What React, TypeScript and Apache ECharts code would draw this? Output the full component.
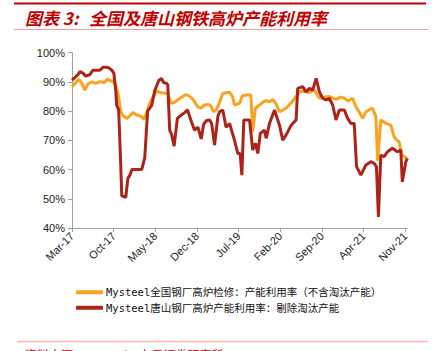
import React, { useEffect, useRef } from "react";
import * as echarts from "echarts";

const seriesNames = [
  "Mysteel全国钢厂高炉检修：产能利用率（不含淘汰产能）",
  "Mysteel唐山钢厂高炉产能利用率：剔除淘汰产能",
];

const nationalDates = [
  "2017-03-01","2017-03-16","2017-04-06","2017-04-21","2017-05-06","2017-05-22","2017-06-11","2017-07-01","2017-07-22","2017-08-12",
  "2017-09-02","2017-09-17","2017-09-27","2017-10-12","2017-10-22","2017-11-07","2017-11-17","2017-12-08","2017-12-23","2018-01-08",
  "2018-01-28","2018-02-17","2018-03-05","2018-03-23","2018-04-08","2018-04-26","2018-05-09","2018-05-24","2018-06-13","2018-07-04",
  "2018-07-22","2018-08-09","2018-08-24","2018-09-14","2018-10-04","2018-10-19","2018-11-04","2018-11-19","2018-12-04","2018-12-20",
  "2019-01-10","2019-01-25","2019-02-09","2019-02-23","2019-03-10","2019-03-26","2019-04-10","2019-04-25","2019-05-16","2019-05-31",
  "2019-06-10","2019-07-06","2019-07-21","2019-08-11","2019-09-03","2019-09-12","2019-09-26","2019-10-17","2019-11-06","2019-11-20",
  "2019-12-07","2019-12-24","2020-01-10","2020-01-28","2020-02-12","2020-02-29","2020-03-23","2020-04-21","2020-05-08","2020-06-03",
  "2020-06-28","2020-07-24","2020-08-19","2020-09-13","2020-10-09","2020-11-12","2020-12-04","2020-12-25","2021-01-14","2021-02-05",
  "2021-02-21","2021-03-09","2021-03-27","2021-04-13","2021-04-30","2021-05-16","2021-06-03","2021-06-12","2021-06-28","2021-07-24",
  "2021-08-19","2021-09-05","2021-09-20","2021-09-30","2021-10-14","2021-10-26","2021-11-12",
];
const nationalValues = [
  88.4,89.5,90.9,89.5,87.2,89.3,90.0,89.5,90.1,89.8,
  91.0,90.3,90.2,89.0,86.6,80.0,78.5,77.5,78.3,79.5,
  78.7,78.3,77.2,80.5,83.5,85.5,87.0,86.4,86.2,86.0,
  82.7,83.0,83.8,84.8,85.6,85.3,84.5,83.3,81.5,81.0,
  82.1,82.3,82.0,79.8,80.5,83.0,86.0,86.3,86.5,85.0,
  82.1,82.7,85.3,85.5,85.5,73.0,81.0,82.1,83.2,83.6,
  83.2,84.0,82.5,79.8,80.3,81.0,82.5,85.0,86.6,86.8,
  86.4,87.2,84.4,84.8,85.0,84.0,84.8,84.4,83.5,84.4,
  81.5,79.8,77.5,79.8,80.5,81.0,78.1,63.0,77.0,75.8,
  75.2,71.2,70.0,69.5,65.0,64.5,63.8,
];

const tangshanDates = [
  "2017-03-01","2017-03-16","2017-04-01","2017-04-11","2017-04-26","2017-05-11","2017-06-01","2017-06-16","2017-07-07","2017-07-22",
  "2017-08-07","2017-08-28","2017-09-07","2017-09-22","2017-10-02","2017-10-12","2017-10-17","2017-10-27","2017-11-05","2017-11-12",
  "2017-12-02","2017-12-13","2017-12-23","2018-01-03","2018-01-28","2018-02-21","2018-03-08","2018-03-23","2018-04-13","2018-04-28",
  "2018-05-19","2018-06-02","2018-06-13","2018-06-27","2018-07-04","2018-07-14","2018-07-24","2018-08-06","2018-08-23","2018-09-09",
  "2018-09-29","2018-10-14","2018-11-03","2018-11-19","2018-12-06","2018-12-23","2019-01-05","2019-01-19","2019-02-04","2019-02-14",
  "2019-02-28","2019-03-17","2019-03-26","2019-04-11","2019-04-28","2019-05-16","2019-06-10","2019-06-27","2019-07-09","2019-07-18",
  "2019-07-28","2019-08-27","2019-09-12","2019-09-26","2019-10-08","2019-10-21","2019-11-11","2019-11-20","2019-12-07","2020-01-02",
  "2020-01-28","2020-02-13","2020-02-29","2020-03-27","2020-04-21","2020-04-29","2020-05-25","2020-06-11","2020-06-28","2020-07-15",
  "2020-08-02","2020-08-19","2020-09-05","2020-09-22","2020-10-09","2020-10-26","2020-11-12","2020-11-29","2020-12-25","2021-01-11",
  "2021-01-28","2021-02-13","2021-02-24","2021-03-18","2021-04-13","2021-05-08","2021-05-25","2021-06-06","2021-06-16","2021-06-28",
  "2021-07-15","2021-08-02","2021-08-27","2021-09-22","2021-10-09","2021-10-17","2021-11-04","2021-11-12",
];
const tangshanValues = [
  90.6,91.5,92.5,93.5,93.0,92.0,92.5,94.0,94.0,94.0,
  95.0,95.0,94.8,94.0,93.0,87.0,82.0,80.5,65.0,51.0,
  50.5,57.0,58.0,60.0,60.0,60.0,64.0,80.0,82.0,87.0,
  90.5,91.2,89.8,89.5,89.0,73.5,72.0,68.0,77.5,78.5,
  79.5,80.4,76.4,73.5,74.5,70.5,75.5,76.7,77.0,75.8,
  68.4,78.2,79.8,80.4,74.5,75.8,70.1,65.5,65.5,58.1,
  77.0,77.0,66.7,69.0,65.5,72.4,73.5,70.7,75.8,80.4,
  75.2,70.1,71.8,75.2,77.0,87.8,88.4,86.6,87.8,87.2,
  91.2,86.6,84.4,83.8,84.4,82.1,77.0,80.4,80.4,77.5,
  75.8,75.8,61.0,58.1,61.6,62.7,62.1,61.0,43.8,65.0,
  64.4,66.1,67.3,66.1,66.7,55.8,62.7,63.8,
];

// tick positions: months since Mar-2017, every 7 months
const tickMonths = [0, 7, 14, 21, 28, 35, 42, 49, 56];
const monthNames = ["Jan","Feb","Mar","Apr","May","Jun","Jul","Aug","Sep","Oct","Nov","Dec"];

function toMonth(d: string): number {
  const [y, mo, da] = d.split("-").map(Number);
  const dim = new Date(y, mo, 0).getDate();
  return (y - 2017) * 12 + (mo - 3) + (da - 1) / dim;
}
function monthLabel(m: number): string {
  const total = 2 + Math.round(m);
  const y = 17 + Math.floor(total / 12);
  return monthNames[total % 12] + "-" + y;
}

const ORANGE = "#FBA31F";
const RED = "#AD2219";

export default function App() {
  const ref = useRef<HTMLDivElement>(null);
  useEffect(() => {
    if (!ref.current) return;
    const chart = echarts.init(ref.current, undefined, { renderer: "svg" });
    const nat = nationalDates.map((d, i) => [toMonth(d), nationalValues[i]]);
    const ts = tangshanDates.map((d, i) => [toMonth(d), tangshanValues[i]]);
    chart.setOption({
      animation: false,
      backgroundColor: "#fff",
      grid: { left: 72, right: 33, top: 52.7, bottom: 123 },
      xAxis: {
        type: "value",
        min: 0,
        max: 56.3,
        splitLine: { show: false },
        axisLine: { lineStyle: { color: "#A0A0A0", width: 1 } },
        axisTick: { show: true, length: 4, customValues: tickMonths, lineStyle: { color: "#A0A0A0" } },
        axisLabel: {
          customValues: tickMonths,
          rotate: 45,
          margin: 6,
          fontSize: 11,
          color: "#222",
          fontFamily: "Liberation Sans, Arial, sans-serif",
          formatter: (v: number) => monthLabel(v),
        },
      },
      yAxis: {
        type: "value",
        min: 40,
        max: 100,
        interval: 10,
        splitLine: { show: false },
        axisLine: { show: true, lineStyle: { color: "#A0A0A0", width: 1 } },
        axisTick: { show: true, length: 4, lineStyle: { color: "#A0A0A0" } },
        axisLabel: {
          margin: 7,
          fontSize: 11,
          color: "#222",
          fontFamily: "Liberation Sans, Arial, sans-serif",
          formatter: "{value}%",
        },
      },
      legend: {
        orient: "vertical",
        left: 71,
        top: 282,
        itemWidth: 27,
        itemHeight: 4,
        itemGap: 5,
        icon: "roundRect",
        data: seriesNames,
        textStyle: {
          fontSize: 10.5,
          color: "#111",
          fontFamily: "DejaVu Sans Mono, Noto Sans CJK SC, monospace",
          padding: [0, 0, 0, -2],
        },
      },
      series: [
        {
          name: seriesNames[0],
          type: "line",
          data: nat,
          showSymbol: false,
          symbol: "none",
          lineStyle: { color: ORANGE, width: 3 },
          itemStyle: { color: ORANGE },
        },
        {
          name: seriesNames[1],
          type: "line",
          data: ts,
          showSymbol: false,
          symbol: "none",
          lineStyle: { color: RED, width: 3 },
          itemStyle: { color: RED },
        },
      ],
      graphic: [
        { type: "rect", shape: { x: 14, y: 2.5, width: 412, height: 2 }, style: { fill: "#C00000" } },
        {
          type: "text",
          x: 25,
          y: 17,
          style: {
            text: "图表 3:",
            fill: "#C00000",
            font: "italic bold 17px 'Noto Sans CJK SC', sans-serif",
            verticalAlign: "middle",
          },
        },
        {
          type: "text",
          x: 89,
          y: 17,
          style: {
            text: "全国及唐山钢铁高炉产能利用率",
            fill: "#C00000",
            font: "italic bold 17px 'Noto Sans CJK SC', sans-serif",
            verticalAlign: "middle",
          },
        },
        { type: "line", shape: { x1: 14, y1: 29.5, x2: 428, y2: 29.5 }, style: { stroke: "#E9A3A3", lineWidth: 1 } },
        { type: "line", shape: { x1: 17, y1: 341.5, x2: 428, y2: 341.5 }, style: { stroke: "#F2B8B8", lineWidth: 1.5 } },
        {
          type: "text",
          x: 25,
          y: 348,
          style: {
            text: "资料来源：Mysteel，东吴证券研究所",
            fill: "#C00000",
            font: "12px 'Noto Sans CJK SC', sans-serif",
            verticalAlign: "top",
          },
        },
      ],
    });
    return () => chart.dispose();
  }, []);
  return <div ref={ref} style={{ position: "fixed", left: 0, top: 0, width: 440, height: 351 }} />;
}
